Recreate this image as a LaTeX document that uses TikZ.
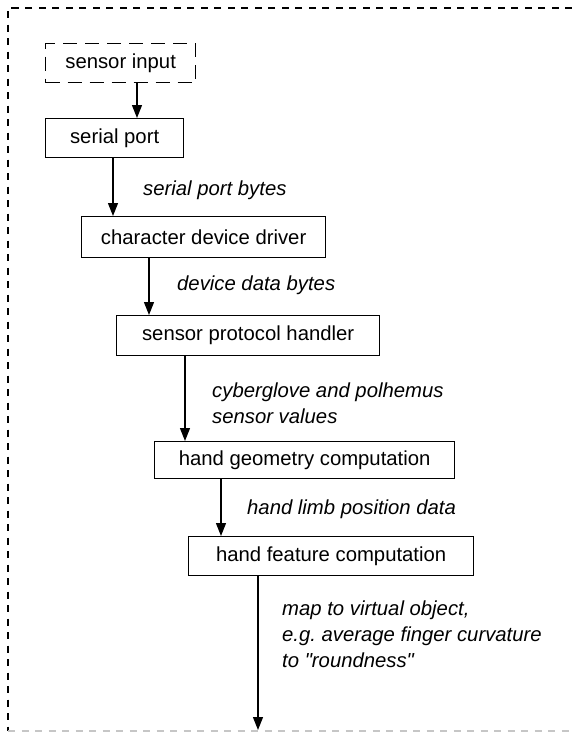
\documentclass[tikz,border=0pt]{standalone}
\usepackage{fontspec}
\setmainfont{Liberation Sans}[Ligatures=TeXOff]
\usetikzlibrary{arrows.meta}

\begin{document}
\begin{tikzpicture}[x=1pt,y=-1pt,
        every node/.style={font=\fontsize{20.3pt}{26pt}\selectfont},
        box/.style={draw,line width=1.3pt,anchor=north west,inner sep=0pt,
                    minimum width=#1,minimum height=39pt},
        lbl/.style={font=\fontsize{20.3pt}{26pt}\selectfont\itshape,
                    inner sep=0pt,align=left,anchor=west},
        flow/.style={-{Triangle[length=13pt,width=10pt]},line width=1.3pt},
        frame/.style={line width=1.4pt,dash pattern=on 7pt off 6.5pt}]
                \useasboundingbox (0,0) rectangle (572,732);

                % outer frame, open on the right
                \coordinate (tl) at (8,8);
                \coordinate (tr) at (572,8);
                \coordinate (bl) at (8,731);
                \coordinate (br) at (572,731);
                \draw[frame] (tr) -- (tl) -- (bl);
                \draw[frame,gray!45] (bl) -- (br);

                \node[box=150pt,dash pattern=on 14pt off 8pt] (input) at (45,43) {sensor input};
                \node[box=138pt] (serial) at (45,118) {serial port};
                \node[box=244pt,minimum height=41pt] (chardev) at (81,216) {character device driver};
                \node[box=263pt,minimum height=40pt] (proto) at (116,315) {sensor protocol handler};
                \node[box=300pt,minimum height=37pt] (geom) at (154,441) {hand geometry computation};
                \node[box=285pt] (feat) at (188,536) {hand feature computation};

                \coordinate (x1) at (137,0);
                \coordinate (x2) at (113,0);
                \coordinate (x3) at (149,0);
                \coordinate (x4) at (185,0);
                \coordinate (x5) at (221,0);
                \coordinate (out) at (258,730);

                \draw[flow] (input.south -| x1) -- (serial.north -| x1);
                \draw[flow] (serial.south -| x2) -- (chardev.north -| x2);
                \draw[flow] (chardev.south -| x3) -- (proto.north -| x3);
                \draw[flow] (proto.south -| x4) -- (geom.north -| x4);
                \draw[flow] (geom.south -| x5) -- (feat.north -| x5);
                \draw[flow] (feat.south -| out) -- (out);

                \node[lbl] (bytes) at (143,190) {serial port bytes};
                \node[lbl] (devbytes) at (177,285) {device data bytes};
                \node[lbl] (values) at (212,403) {cyberglove and polhemus\\sensor values};
                \node[lbl] (limb) at (247,509) {hand limb position data};
                \node[lbl] (map) at (282,634) {map to virtual object,\\e.g.\ average finger curvature\\to "roundness"};
            \end{tikzpicture}
\end{document}
